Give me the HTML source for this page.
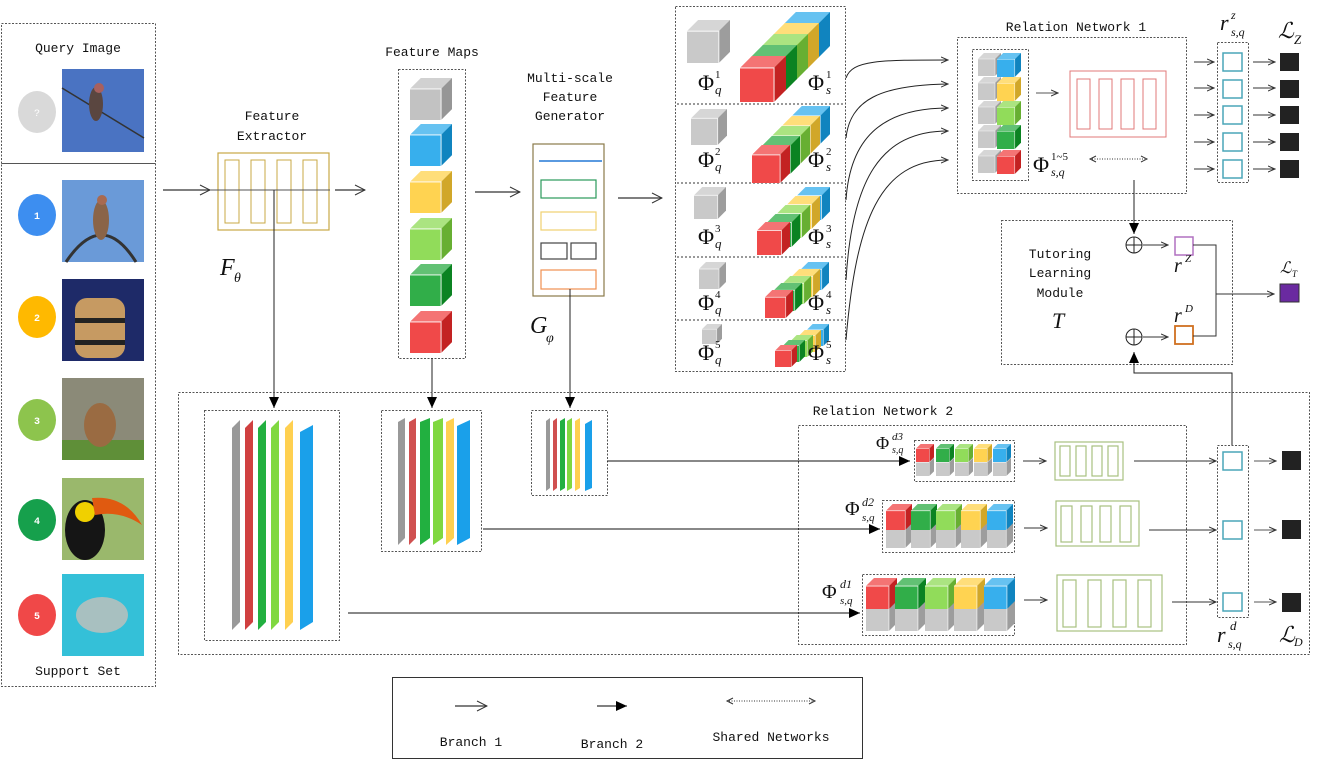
<!DOCTYPE html>
<html><head><meta charset="utf-8"><style>
html,body{margin:0;padding:0;background:#fff}
svg{display:block}
text{font-family:"Liberation Mono",monospace;font-size:13px;fill:#111}
.m{font-family:"Liberation Serif",serif;font-style:italic}
.p{font-family:"Liberation Serif",serif}
.d{fill:none;stroke:#555;stroke-width:1;stroke-dasharray:2,1.5}
.a{stroke:#333;stroke-width:1.2;fill:none}
</style></head><body>
<svg width="1326" height="761" viewBox="0 0 1326 761" xmlns="http://www.w3.org/2000/svg">
<defs>
<symbol id="c" viewBox="0 0 10 10">
<rect x="0" y="2.6" width="7.4" height="7.4" fill="inherit"/>
<rect x="0" y="2.6" width="7.4" height="7.4" fill="#fff" opacity="0.15"/>
<polygon points="0,2.6 2.6,0 10,0 7.4,2.6" fill="inherit"/>
<polygon points="0,2.6 2.6,0 10,0 7.4,2.6" fill="#fff" opacity="0.35"/>
<polygon points="7.4,2.6 10,0 10,7.4 7.4,10" fill="inherit"/>
<polygon points="7.4,2.6 10,0 10,7.4 7.4,10" fill="#000" opacity="0.18"/>
<polyline points="0,2.6 7.4,2.6 7.4,10" fill="none" stroke="#fff" stroke-width="0.25" opacity="0.8"/>
</symbol>
<marker id="o" markerWidth="12" markerHeight="12" refX="11" refY="6" orient="auto" markerUnits="userSpaceOnUse"><path d="M1,1 L11,6 L1,11" fill="none" stroke="#333" stroke-width="1"/></marker>
<marker id="s" markerWidth="8" markerHeight="8" refX="7" refY="4" orient="auto" markerUnits="userSpaceOnUse"><path d="M0,1 L7,4 L0,7" fill="none" stroke="#333" stroke-width="1"/></marker>
<marker id="f" markerWidth="12" markerHeight="10" refX="11" refY="5" orient="auto" markerUnits="userSpaceOnUse"><path d="M0,0 L11,5 L0,10z" fill="#000"/></marker>
</defs>

<!-- left panel -->
<rect class="d" x="1.5" y="23.5" width="154" height="140"/>
<rect class="d" x="1.5" y="163.5" width="154" height="523"/>
<text x="78" y="52" text-anchor="middle">Query Image</text>
<text x="78" y="675" text-anchor="middle">Support Set</text>
<ellipse cx="37" cy="112" rx="19" ry="21" fill="#d9d9d9"/><text x="37" y="116" text-anchor="middle" style="font-size:10px;fill:#fff">?</text>
<rect x="62" y="69" width="82" height="83" fill="#4a73c2"/>
<line x1="62" y1="88" x2="144" y2="138" stroke="#333" stroke-width="1.5"/>
<ellipse cx="96" cy="104" rx="7" ry="17" fill="#5a4640"/><circle cx="99" cy="88" r="5" fill="#a8605e"/>
<ellipse cx="37" cy="215" rx="19" ry="21" fill="#3d8ef0"/><text x="37" y="219" text-anchor="middle" style="font-size:10px;fill:#fff;font-weight:bold">1</text>
<rect x="62" y="180" width="82" height="82" fill="#6a9ad8"/>
<path d="M66,262 Q102,208 136,262" stroke="#333" stroke-width="3" fill="none"/>
<ellipse cx="101" cy="220" rx="8" ry="20" fill="#8a6448"/><circle cx="102" cy="200" r="5" fill="#a86a50"/>
<ellipse cx="37" cy="317" rx="19" ry="21" fill="#ffb900"/><text x="37" y="321" text-anchor="middle" style="font-size:10px;fill:#fff;font-weight:bold">2</text>
<rect x="62" y="279" width="82" height="82" fill="#1e2a68"/>
<rect x="75" y="298" width="50" height="60" rx="12" fill="#c69a62"/>
<rect x="75" y="318" width="50" height="5" fill="#222"/><rect x="75" y="340" width="50" height="5" fill="#222"/>
<ellipse cx="37" cy="420" rx="19" ry="21" fill="#8dc44d"/><text x="37" y="424" text-anchor="middle" style="font-size:10px;fill:#fff;font-weight:bold">3</text>
<rect x="62" y="378" width="82" height="82" fill="#8b8a78"/><rect x="62" y="440" width="82" height="20" fill="#5f8f38"/>
<ellipse cx="100" cy="425" rx="16" ry="22" fill="#9a6b42"/>
<ellipse cx="37" cy="520" rx="19" ry="21" fill="#16a04c"/><text x="37" y="524" text-anchor="middle" style="font-size:10px;fill:#fff;font-weight:bold">4</text>
<rect x="62" y="478" width="82" height="82" fill="#9ab86c"/>
<ellipse cx="85" cy="530" rx="20" ry="30" fill="#151515"/><ellipse cx="85" cy="512" rx="10" ry="10" fill="#f0d000"/>
<path d="M92,498 Q125,495 142,525 Q120,510 95,515z" fill="#e05a10"/>
<ellipse cx="37" cy="615" rx="19" ry="21" fill="#f04848"/><text x="37" y="619" text-anchor="middle" style="font-size:10px;fill:#fff;font-weight:bold">5</text>
<rect x="62" y="574" width="82" height="82" fill="#34c0d8"/>
<ellipse cx="102" cy="615" rx="26" ry="18" fill="#a8c0c0"/>

<!-- feature extractor -->
<text x="272" y="120" text-anchor="middle">Feature</text>
<text x="272" y="140" text-anchor="middle">Extractor</text>
<line x1="163" y1="190" x2="210" y2="190" class="a" marker-end="url(#o)"/>
<rect x="218" y="153" width="111" height="77" fill="none" stroke="#c8a845" stroke-width="1.2"/>
<rect x="225" y="160" width="14" height="63" fill="none" stroke="#c8a845"/>
<rect x="251" y="160" width="14" height="63" fill="none" stroke="#c8a845"/>
<rect x="277" y="160" width="14" height="63" fill="none" stroke="#c8a845"/>
<rect x="303" y="160" width="14" height="63" fill="none" stroke="#c8a845"/>
<line x1="210" y1="190" x2="330" y2="190" stroke="#555"/>
<line x1="335" y1="190" x2="365" y2="190" class="a" marker-end="url(#o)"/>
<text x="220" y="275" class="m" style="font-size:24px">F</text><text x="234" y="282" class="m" style="font-size:14px">θ</text>
<line x1="274" y1="190" x2="274" y2="408" stroke="#222" marker-end="url(#f)"/>

<!-- feature maps -->
<text x="432" y="56" text-anchor="middle">Feature Maps</text>
<rect class="d" x="398.5" y="69.5" width="67" height="289"/>
<use href="#c" x="410" y="78" width="42" height="42" fill="#b8b8b8"/>
<use href="#c" x="410" y="124" width="42" height="42" fill="#14a2ea"/>
<use href="#c" x="410" y="171" width="42" height="42" fill="#ffcc33"/>
<use href="#c" x="410" y="218" width="42" height="42" fill="#7ed63e"/>
<use href="#c" x="410" y="264" width="42" height="42" fill="#0ea02a"/>
<use href="#c" x="410" y="311" width="42" height="42" fill="#ee2a2a"/>
<line x1="475" y1="192" x2="520" y2="192" class="a" marker-end="url(#o)"/>
<line x1="432" y1="358" x2="432" y2="408" stroke="#222" marker-end="url(#f)"/>

<!-- multi-scale -->
<text x="570" y="82" text-anchor="middle">Multi-scale</text>
<text x="570" y="101" text-anchor="middle">Feature</text>
<text x="570" y="120" text-anchor="middle">Generator</text>
<rect x="533" y="144" width="71" height="152" fill="none" stroke="#8a7a4a" stroke-width="1.2"/>
<line x1="539" y1="161" x2="602" y2="161" stroke="#5a9ae0" stroke-width="2"/>
<rect x="541" y="180" width="55" height="18" fill="none" stroke="#2a9a5a" stroke-width="1.2"/>
<rect x="541" y="212" width="55" height="18" fill="none" stroke="#f0d070" stroke-width="1.2"/>
<rect x="541" y="243" width="26" height="16" fill="none" stroke="#444" stroke-width="1.2"/>
<rect x="571" y="243" width="25" height="16" fill="none" stroke="#444" stroke-width="1.2"/>
<rect x="541" y="270" width="55" height="19" fill="none" stroke="#f09050" stroke-width="1.2"/>
<text x="530" y="333" class="m" style="font-size:24px">G</text><text x="546" y="342" class="m" style="font-size:14px">φ</text>
<line x1="570" y1="289" x2="570" y2="408" stroke="#222" marker-end="url(#f)"/>
<line x1="618" y1="198" x2="662" y2="198" class="a" marker-end="url(#o)"/>

<!-- multiscale stacks -->
<rect class="d" x="675.5" y="6.5" width="170" height="365"/>
<line x1="677" y1="104" x2="845" y2="104" stroke="#333" stroke-dasharray="2,2"/>
<line x1="677" y1="183" x2="845" y2="183" stroke="#333" stroke-dasharray="2,2"/>
<line x1="677" y1="257" x2="845" y2="257" stroke="#333" stroke-dasharray="2,2"/>
<line x1="677" y1="320" x2="845" y2="320" stroke="#333" stroke-dasharray="2,2"/>
<use href="#c" x="687" y="20" width="43" height="43" fill="#c0c0c0"/>
<use href="#c" x="784" y="12" width="46" height="46" fill="#14a2ea"/>
<use href="#c" x="773" y="23" width="46" height="46" fill="#ffcc33"/>
<use href="#c" x="762" y="34" width="46" height="46" fill="#7ed63e"/>
<use href="#c" x="751" y="45" width="46" height="46" fill="#0ea02a"/>
<use href="#c" x="740" y="56" width="46" height="46" fill="#ee2a2a"/>
<use href="#c" x="691" y="109" width="36" height="36" fill="#c0c0c0"/>
<use href="#c" x="792" y="106" width="38" height="38" fill="#14a2ea"/>
<use href="#c" x="782" y="116" width="38" height="38" fill="#ffcc33"/>
<use href="#c" x="772" y="126" width="38" height="38" fill="#7ed63e"/>
<use href="#c" x="762" y="136" width="38" height="38" fill="#0ea02a"/>
<use href="#c" x="752" y="145" width="38" height="38" fill="#ee2a2a"/>
<use href="#c" x="694" y="187" width="32" height="32" fill="#c0c0c0"/>
<use href="#c" x="797" y="187" width="33" height="33" fill="#14a2ea"/>
<use href="#c" x="787" y="196" width="33" height="33" fill="#ffcc33"/>
<use href="#c" x="777" y="205" width="33" height="33" fill="#7ed63e"/>
<use href="#c" x="767" y="214" width="33" height="33" fill="#0ea02a"/>
<use href="#c" x="757" y="222" width="33" height="33" fill="#ee2a2a"/>
<use href="#c" x="699" y="262" width="27" height="27" fill="#c0c0c0"/>
<use href="#c" x="801" y="262" width="28" height="28" fill="#14a2ea"/>
<use href="#c" x="792" y="269" width="28" height="28" fill="#ffcc33"/>
<use href="#c" x="783" y="276" width="28" height="28" fill="#7ed63e"/>
<use href="#c" x="774" y="283" width="28" height="28" fill="#0ea02a"/>
<use href="#c" x="765" y="290" width="28" height="28" fill="#ee2a2a"/>
<use href="#c" x="702" y="324" width="20" height="20" fill="#c0c0c0"/>
<use href="#c" x="807" y="324" width="22" height="22" fill="#14a2ea"/>
<use href="#c" x="799" y="330" width="22" height="22" fill="#ffcc33"/>
<use href="#c" x="791" y="335" width="22" height="22" fill="#7ed63e"/>
<use href="#c" x="783" y="340" width="22" height="22" fill="#0ea02a"/>
<use href="#c" x="775" y="345" width="22" height="22" fill="#ee2a2a"/>
<g>
<text x="698" y="90" class="p" style="font-size:22px">Φ</text><text x="715" y="78" class="p" style="font-size:11px">1</text><text x="715" y="94" class="m" style="font-size:13px">q</text>
<text x="808" y="90" class="p" style="font-size:22px">Φ</text><text x="826" y="78" class="p" style="font-size:11px">1</text><text x="826" y="94" class="m" style="font-size:13px">s</text>
<text x="698" y="167" class="p" style="font-size:22px">Φ</text><text x="715" y="155" class="p" style="font-size:11px">2</text><text x="715" y="171" class="m" style="font-size:13px">q</text>
<text x="808" y="167" class="p" style="font-size:22px">Φ</text><text x="826" y="155" class="p" style="font-size:11px">2</text><text x="826" y="171" class="m" style="font-size:13px">s</text>
<text x="698" y="244" class="p" style="font-size:22px">Φ</text><text x="715" y="232" class="p" style="font-size:11px">3</text><text x="715" y="248" class="m" style="font-size:13px">q</text>
<text x="808" y="244" class="p" style="font-size:22px">Φ</text><text x="826" y="232" class="p" style="font-size:11px">3</text><text x="826" y="248" class="m" style="font-size:13px">s</text>
<text x="698" y="310" class="p" style="font-size:22px">Φ</text><text x="715" y="298" class="p" style="font-size:11px">4</text><text x="715" y="314" class="m" style="font-size:13px">q</text>
<text x="808" y="310" class="p" style="font-size:22px">Φ</text><text x="826" y="298" class="p" style="font-size:11px">4</text><text x="826" y="314" class="m" style="font-size:13px">s</text>
<text x="698" y="360" class="p" style="font-size:22px">Φ</text><text x="715" y="348" class="p" style="font-size:11px">5</text><text x="715" y="364" class="m" style="font-size:13px">q</text>
<text x="808" y="360" class="p" style="font-size:22px">Φ</text><text x="826" y="348" class="p" style="font-size:11px">5</text><text x="826" y="364" class="m" style="font-size:13px">s</text>
</g>
<g stroke="#222" fill="none" stroke-width="1">
<path d="M846,78 C852,60 880,60 948,60" marker-end="url(#s)"/>
<path d="M846,138 C850,100 880,85 948,84" marker-end="url(#s)"/>
<path d="M846,200 C850,140 880,108 948,108" marker-end="url(#s)"/>
<path d="M846,280 C852,180 880,131 948,131" marker-end="url(#s)"/>
<path d="M846,340 C856,220 880,160 948,160" marker-end="url(#s)"/>
</g>

<!-- Relation network 1 -->
<text x="1076" y="31" text-anchor="middle">Relation Network 1</text>
<rect class="d" x="957.5" y="37.5" width="229" height="156"/>
<rect class="d" x="972.5" y="49.5" width="56" height="131"/>
<use href="#c" x="978" y="53" width="23" height="23" fill="#c0c0c0"/><use href="#c" x="997" y="53" width="24" height="24" fill="#14a2ea"/>
<use href="#c" x="978" y="77" width="23" height="23" fill="#c0c0c0"/><use href="#c" x="997" y="77" width="24" height="24" fill="#ffcc33"/>
<use href="#c" x="978" y="101" width="23" height="23" fill="#c0c0c0"/><use href="#c" x="997" y="101" width="24" height="24" fill="#7ed63e"/>
<use href="#c" x="978" y="125" width="23" height="23" fill="#c0c0c0"/><use href="#c" x="997" y="125" width="24" height="24" fill="#0ea02a"/>
<use href="#c" x="978" y="150" width="23" height="23" fill="#c0c0c0"/><use href="#c" x="997" y="150" width="24" height="24" fill="#ee2a2a"/>
<text x="1033" y="172" class="p" style="font-size:22px">Φ</text><text x="1051" y="160" class="p" style="font-size:11px">1~5</text><text x="1051" y="176" class="m" style="font-size:12px">s,q</text>
<line x1="1036" y1="93" x2="1058" y2="93" stroke="#555" marker-end="url(#s)"/>
<rect x="1070" y="71" width="96" height="66" fill="none" stroke="#e07878"/>
<rect x="1077" y="79" width="13" height="50" fill="none" stroke="#e07878"/>
<rect x="1099" y="79" width="13" height="50" fill="none" stroke="#e07878"/>
<rect x="1121" y="79" width="13" height="50" fill="none" stroke="#e07878"/>
<rect x="1143" y="79" width="13" height="50" fill="none" stroke="#e07878"/>
<line x1="1092" y1="159" x2="1145" y2="159" stroke="#333" stroke-dasharray="1,1.5"/>
<path d="M1096,156 L1090,159 L1096,162 M1141,156 L1147,159 L1141,162" stroke="#333" fill="none"/>
<g stroke="#333"><line x1="1194" y1="62" x2="1214" y2="62" marker-end="url(#s)"/><line x1="1194" y1="88" x2="1214" y2="88" marker-end="url(#s)"/><line x1="1194" y1="115" x2="1214" y2="115" marker-end="url(#s)"/><line x1="1194" y1="142" x2="1214" y2="142" marker-end="url(#s)"/><line x1="1194" y1="169" x2="1214" y2="169" marker-end="url(#s)"/></g>
<rect class="d" x="1217.5" y="42.5" width="31" height="140"/>
<g fill="#fff" stroke="#4aa6b8" stroke-width="1.5"><rect x="1223" y="53" width="19" height="18"/><rect x="1223" y="80" width="19" height="18"/><rect x="1223" y="106" width="19" height="18"/><rect x="1223" y="133" width="19" height="18"/><rect x="1223" y="160" width="19" height="18"/></g>
<g stroke="#333"><line x1="1253" y1="62" x2="1275" y2="62" marker-end="url(#s)"/><line x1="1253" y1="88" x2="1275" y2="88" marker-end="url(#s)"/><line x1="1253" y1="115" x2="1275" y2="115" marker-end="url(#s)"/><line x1="1253" y1="142" x2="1275" y2="142" marker-end="url(#s)"/><line x1="1253" y1="169" x2="1275" y2="169" marker-end="url(#s)"/></g>
<g fill="#222"><rect x="1280" y="53" width="19" height="18"/><rect x="1280" y="80" width="19" height="18"/><rect x="1280" y="106" width="19" height="18"/><rect x="1280" y="133" width="19" height="18"/><rect x="1280" y="160" width="19" height="18"/></g>
<text x="1220" y="30" class="m" style="font-size:22px">r</text><text x="1231" y="19" class="m" style="font-size:12px">z</text><text x="1231" y="36" class="m" style="font-size:12px">s,q</text>
<text x="1278" y="38" class="m" style="font-size:22px">ℒ</text><text x="1294" y="44" class="m" style="font-size:13px">Z</text>

<!-- tutoring -->
<rect class="d" x="1001.5" y="220.5" width="231" height="144"/>
<text x="1060" y="258" text-anchor="middle">Tutoring</text>
<text x="1060" y="277" text-anchor="middle">Learning</text>
<text x="1060" y="297" text-anchor="middle">Module</text>
<text x="1052" y="328" class="m" style="font-size:22px">T</text>
<line x1="1134" y1="180" x2="1134" y2="234" stroke="#222" marker-end="url(#f)"/>
<circle cx="1134" cy="245" r="8" fill="none" stroke="#222"/><path d="M1126,245h16M1134,237v16" stroke="#222"/>
<line x1="1143" y1="245" x2="1168" y2="245" stroke="#333" marker-end="url(#s)"/>
<rect x="1175" y="237" width="18" height="18" fill="none" stroke="#b070c0" stroke-width="1.5"/>
<circle cx="1134" cy="337" r="8" fill="none" stroke="#222"/><path d="M1126,337h16M1134,329v16" stroke="#222"/>
<line x1="1143" y1="337" x2="1168" y2="337" stroke="#333" marker-end="url(#s)"/>
<rect x="1175" y="326" width="18" height="18" fill="none" stroke="#d07020" stroke-width="1.8"/>
<text x="1174" y="272" class="m" style="font-size:20px">r</text><text x="1185" y="262" class="m" style="font-size:11px">Z</text>
<text x="1174" y="322" class="m" style="font-size:20px">r</text><text x="1185" y="312" class="m" style="font-size:11px">D</text>
<path d="M1193,245 H1216 V336 H1193 M1216,294 H1272" stroke="#333" fill="none"/>
<line x1="1250" y1="294" x2="1274" y2="294" stroke="#333" marker-end="url(#s)"/>
<rect x="1280" y="284" width="19" height="18" fill="#6a2aa0" stroke="#333"/>
<text x="1280" y="273" class="m" style="font-size:16px">ℒ</text><text x="1292" y="277" class="m" style="font-size:9px">T</text>
<path d="M1232,445 V373 H1134 V352" stroke="#222" fill="none" marker-end="url(#f)"/>

<!-- relation network 2 -->
<rect class="d" x="178.5" y="392.5" width="1131" height="262"/>
<rect class="d" x="204.5" y="410.5" width="135" height="230"/>
<rect class="d" x="381.5" y="410.5" width="100" height="141"/>
<rect class="d" x="531.5" y="410.5" width="76" height="85"/>
<g>
<polygon points="232,428 240,420 240,622 232,630" fill="#999"/>
<polygon points="245,428 253,420 253,622 245,630" fill="#d04040"/>
<polygon points="258,428 266,420 266,622 258,630" fill="#22b040"/>
<polygon points="271,428 279,420 279,622 271,630" fill="#80d840"/>
<polygon points="285,428 293,420 293,622 285,630" fill="#ffd050"/>
<polygon points="300,432 313,425 313,622 300,630" fill="#1aa0ea"/>
<polygon points="398,422 405,418 405,538 398,545" fill="#999"/>
<polygon points="409,422 416,418 416,538 409,545" fill="#d05050"/>
<polygon points="420,422 430,418 430,538 420,545" fill="#22b040"/>
<polygon points="433,422 443,418 443,538 433,545" fill="#80d840"/>
<polygon points="446,422 454,418 454,538 446,545" fill="#ffd050"/>
<polygon points="457,426 470,420 470,538 457,545" fill="#1aa0ea"/>
<polygon points="546,421 550,418 550,488 546,491" fill="#999"/>
<polygon points="553,421 557,418 557,488 553,491" fill="#d05050"/>
<polygon points="560,421 565,418 565,488 560,491" fill="#22b040"/>
<polygon points="567,421 572,418 572,488 567,491" fill="#80d840"/>
<polygon points="575,421 580,418 580,488 575,491" fill="#ffd050"/>
<polygon points="585,424 592,420 592,488 585,491" fill="#1aa0ea"/>
</g>
<text x="883" y="415" text-anchor="middle">Relation Network 2</text>
<rect class="d" x="798.5" y="425.5" width="388" height="219"/>
<line x1="607" y1="461" x2="910" y2="461" stroke="#111" marker-end="url(#f)"/>
<line x1="483" y1="529" x2="880" y2="529" stroke="#111" marker-end="url(#f)"/>
<line x1="348" y1="613" x2="860" y2="613" stroke="#111" marker-end="url(#f)"/>
<rect class="d" x="914.5" y="440.5" width="100" height="41"/>
<g>
<use href="#c" x="916" y="458" width="18" height="18" fill="#c0c0c0"/><use href="#c" x="916" y="444" width="18" height="18" fill="#ee2a2a"/>
<use href="#c" x="936" y="458" width="18" height="18" fill="#c0c0c0"/><use href="#c" x="936" y="444" width="18" height="18" fill="#0ea02a"/>
<use href="#c" x="955" y="458" width="18" height="18" fill="#c0c0c0"/><use href="#c" x="955" y="444" width="18" height="18" fill="#7ed63e"/>
<use href="#c" x="974" y="458" width="18" height="18" fill="#c0c0c0"/><use href="#c" x="974" y="444" width="18" height="18" fill="#ffcc33"/>
<use href="#c" x="993" y="458" width="18" height="18" fill="#c0c0c0"/><use href="#c" x="993" y="444" width="18" height="18" fill="#14a2ea"/>
</g>
<rect class="d" x="882.5" y="500.5" width="132" height="52"/>
<g>
<use href="#c" x="886" y="522" width="26" height="26" fill="#c0c0c0"/><use href="#c" x="886" y="504" width="26" height="26" fill="#ee2a2a"/>
<use href="#c" x="911" y="522" width="26" height="26" fill="#c0c0c0"/><use href="#c" x="911" y="504" width="26" height="26" fill="#0ea02a"/>
<use href="#c" x="936" y="522" width="26" height="26" fill="#c0c0c0"/><use href="#c" x="936" y="504" width="26" height="26" fill="#7ed63e"/>
<use href="#c" x="961" y="522" width="26" height="26" fill="#c0c0c0"/><use href="#c" x="961" y="504" width="26" height="26" fill="#ffcc33"/>
<use href="#c" x="987" y="522" width="26" height="26" fill="#c0c0c0"/><use href="#c" x="987" y="504" width="26" height="26" fill="#14a2ea"/>
</g>
<rect class="d" x="862.5" y="574.5" width="152" height="61"/>
<g>
<use href="#c" x="866" y="600" width="31" height="31" fill="#c0c0c0"/><use href="#c" x="866" y="578" width="31" height="31" fill="#ee2a2a"/>
<use href="#c" x="895" y="600" width="31" height="31" fill="#c0c0c0"/><use href="#c" x="895" y="578" width="31" height="31" fill="#0ea02a"/>
<use href="#c" x="925" y="600" width="31" height="31" fill="#c0c0c0"/><use href="#c" x="925" y="578" width="31" height="31" fill="#7ed63e"/>
<use href="#c" x="954" y="600" width="31" height="31" fill="#c0c0c0"/><use href="#c" x="954" y="578" width="31" height="31" fill="#ffcc33"/>
<use href="#c" x="984" y="600" width="31" height="31" fill="#c0c0c0"/><use href="#c" x="984" y="578" width="31" height="31" fill="#14a2ea"/>
</g>
<text x="876" y="449" class="p" style="font-size:18px">Φ</text><text x="892" y="440" class="m" style="font-size:11px">d3</text><text x="892" y="453" class="m" style="font-size:10px">s,q</text>
<text x="845" y="515" class="p" style="font-size:20px">Φ</text><text x="862" y="506" class="m" style="font-size:12px">d2</text><text x="862" y="521" class="m" style="font-size:11px">s,q</text>
<text x="822" y="598" class="p" style="font-size:20px">Φ</text><text x="840" y="588" class="m" style="font-size:12px">d1</text><text x="840" y="604" class="m" style="font-size:11px">s,q</text>
<g stroke="#333"><line x1="1023" y1="461" x2="1046" y2="461" marker-end="url(#s)"/><line x1="1024" y1="528" x2="1047" y2="528" marker-end="url(#s)"/><line x1="1024" y1="600" x2="1047" y2="600" marker-end="url(#s)"/></g>
<g fill="none" stroke="#a8c080" stroke-width="1.2">
<rect x="1055" y="442" width="68" height="38"/><rect x="1060" y="446" width="10" height="30"/><rect x="1076" y="446" width="10" height="30"/><rect x="1092" y="446" width="10" height="30"/><rect x="1108" y="446" width="10" height="30"/>
<rect x="1056" y="501" width="83" height="45"/><rect x="1061" y="506" width="11" height="36"/><rect x="1081" y="506" width="11" height="36"/><rect x="1100" y="506" width="11" height="36"/><rect x="1120" y="506" width="11" height="36"/>
<rect x="1057" y="575" width="105" height="56"/><rect x="1063" y="580" width="13" height="47"/><rect x="1088" y="580" width="13" height="47"/><rect x="1113" y="580" width="13" height="47"/><rect x="1138" y="580" width="13" height="47"/>
</g>
<g stroke="#333"><line x1="1134" y1="461" x2="1216" y2="461" marker-end="url(#s)"/><line x1="1149" y1="530" x2="1216" y2="530" marker-end="url(#s)"/><line x1="1172" y1="602" x2="1216" y2="602" marker-end="url(#s)"/></g>
<rect class="d" x="1217.5" y="445.5" width="31" height="172"/>
<g fill="#fff" stroke="#4aa6b8" stroke-width="1.5"><rect x="1223" y="452" width="19" height="18"/><rect x="1223" y="521" width="19" height="18"/><rect x="1223" y="593" width="19" height="18"/></g>
<g stroke="#555"><line x1="1254" y1="461" x2="1276" y2="461" marker-end="url(#s)"/><line x1="1254" y1="530" x2="1276" y2="530" marker-end="url(#s)"/><line x1="1254" y1="602" x2="1276" y2="602" marker-end="url(#s)"/></g>
<g fill="#222"><rect x="1282" y="451" width="19" height="19"/><rect x="1282" y="520" width="19" height="19"/><rect x="1282" y="593" width="19" height="19"/></g>
<text x="1217" y="642" class="m" style="font-size:22px">r</text><text x="1230" y="630" class="m" style="font-size:13px">d</text><text x="1228" y="648" class="m" style="font-size:12px">s,q</text>
<text x="1279" y="642" class="m" style="font-size:22px">ℒ</text><text x="1294" y="646" class="m" style="font-size:12px">D</text>

<!-- legend -->
<rect x="392.5" y="677.5" width="470" height="81" fill="none" stroke="#333"/>
<line x1="455" y1="706" x2="487" y2="706" class="a" marker-end="url(#o)"/>
<line x1="597" y1="706" x2="627" y2="706" stroke="#000" marker-end="url(#f)"/>
<line x1="729" y1="701" x2="813" y2="701" stroke="#333" stroke-dasharray="1,1.5"/>
<path d="M733,698 L727,701 L733,704 M809,698 L815,701 L809,704" stroke="#333" fill="none"/>
<text x="471" y="746" text-anchor="middle">Branch 1</text>
<text x="612" y="748" text-anchor="middle">Branch 2</text>
<text x="771" y="741" text-anchor="middle">Shared Networks</text>
</svg>
</body></html>
